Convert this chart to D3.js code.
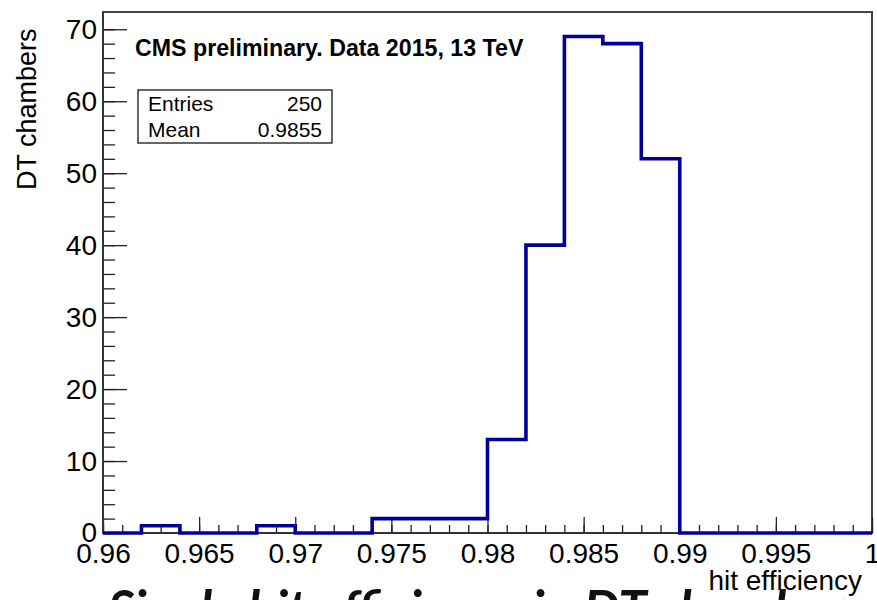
<!DOCTYPE html>
<html><head><meta charset="utf-8">
<script src="https://cdn.jsdelivr.net/npm/d3@7"></script>
<style>body{margin:0;background:#fff;overflow:hidden}svg{display:block}</style>
</head><body><svg id="c" width="877" height="600"></svg>
<script>
// ---- data ----
const binLowEdges = [0.960,0.962,0.964,0.966,0.968,0.970,0.972,0.974,0.976,0.978,
                     0.980,0.982,0.984,0.986,0.988,0.990,0.992,0.994,0.996,0.998];
const binCounts   = [0,1,0,0,1,0,0,2,2,2,13,40,69,68,52,0,0,0,0,0];
const xMax = 1.0;
const xTickValues = [0.96,0.965,0.97,0.975,0.98,0.985,0.99,0.995,1.0];
const xTickLabels = ["0.96","0.965","0.97","0.975","0.98","0.985","0.99","0.995","1"];
const yTickValues = [0,10,20,30,40,50,60,70];
const yTickLabels = ["0","10","20","30","40","50","60","70"];
const statsNames  = ["Entries","Mean"];
const statsValues = ["250","0.9855"];
const xTitle = "hit efficiency";
const yTitle = "DT chambers";
const headerText = "CMS preliminary. Data 2015, 13 TeV";
const slideTitle = "Single hit efficiency in DT chambers";

// ---- layout ----
const L = 103, R = 872, T = 12, B = 533;
const svg = d3.select("#c");
const x = d3.scaleLinear().domain([0.96, 1.0]).range([L, R]);
const y = d3.scaleLinear().domain([0, 72.4]).range([B, T]);
const font = "'Liberation Sans', Arial, Helvetica, sans-serif";

// frame
svg.append("rect").attr("x", L).attr("y", T).attr("width", R - L).attr("height", B - T)
  .attr("fill", "none").attr("stroke", "#444").attr("stroke-width", 2);

// minor x ticks
svg.append("g").attr("transform", `translate(0,${B})`)
  .call(d3.axisBottom(x).tickValues(x.ticks(40)).tickSize(-8).tickFormat(""))
  .call(g => g.select(".domain").remove())
  .call(g => g.selectAll("line").attr("stroke", "#222").attr("stroke-width", 1.3));
// major x ticks
const xa = svg.append("g").attr("transform", `translate(0,${B})`)
  .call(d3.axisBottom(x).tickValues(xTickValues).tickSize(-16).tickPadding(10)
        .tickFormat((d, i) => xTickLabels[i]))
  .call(g => g.select(".domain").remove());
xa.selectAll("line").attr("stroke", "#222").attr("stroke-width", 1.3);
xa.selectAll("text").attr("font-family", font).attr("font-size", 28).attr("fill", "#000");

// minor y ticks
svg.append("g").attr("transform", `translate(${L},0)`)
  .call(d3.axisLeft(y).tickValues(d3.range(0, 72, 2)).tickSize(-12).tickFormat(""))
  .call(g => g.select(".domain").remove())
  .call(g => g.selectAll("line").attr("stroke", "#222").attr("stroke-width", 1.3));
const ya = svg.append("g").attr("transform", `translate(${L},0)`)
  .call(d3.axisLeft(y).tickValues(yTickValues).tickSize(-24).tickPadding(6)
        .tickFormat((d, i) => yTickLabels[i]))
  .call(g => g.select(".domain").remove());
ya.selectAll("line").attr("stroke", "#222").attr("stroke-width", 1.3);
ya.selectAll("text").attr("font-family", font).attr("font-size", 28).attr("fill", "#000");

// left & bottom axis lines
svg.append("line").attr("x1", L).attr("x2", L).attr("y1", T).attr("y2", B)
  .attr("stroke", "#333").attr("stroke-width", 2);
svg.append("line").attr("x1", L).attr("x2", R).attr("y1", B).attr("y2", B)
  .attr("stroke", "#333").attr("stroke-width", 2);

// histogram
const pts = binLowEdges.map((e, i) => [e, binCounts[i]]);
pts.push([xMax, binCounts[binCounts.length - 1]]);
const line = d3.line().x(d => x(d[0])).y(d => y(d[1])).curve(d3.curveStepAfter);
svg.append("path").attr("d", line(pts)).attr("fill", "none")
  .attr("stroke", "#000099").attr("stroke-width", 3.6).attr("stroke-linejoin", "miter");

// titles
svg.append("text").attr("x", 862).attr("y", 590).attr("text-anchor", "end")
  .attr("font-family", font).attr("font-size", 28).text(xTitle);
svg.append("text").attr("transform", "translate(36,190) rotate(-90)")
  .attr("font-family", font).attr("font-size", 27).text(yTitle);

// header
svg.append("text").attr("x", 135).attr("y", 56).attr("font-family", font)
  .attr("font-weight", "bold").attr("font-size", 23.2).text(headerText);

// stats box
svg.append("rect").attr("x", 138).attr("y", 90).attr("width", 194).attr("height", 53)
  .attr("fill", "#fff").attr("stroke", "#000").attr("stroke-width", 1.2);
statsNames.forEach((n, i) => {
  svg.append("text").attr("x", 148).attr("y", 111 + i * 26).attr("font-family", font)
    .attr("font-size", 21).text(n);
  svg.append("text").attr("x", 322).attr("y", 111 + i * 26).attr("text-anchor", "end")
    .attr("font-family", font).attr("font-size", 21).text(statsValues[i]);
});

// slide title (cut off at bottom)
svg.append("text").attr("x", 108).attr("y", 627).attr("font-family", "Lato, 'Open Sans', sans-serif")
  .attr("font-weight", "bold").attr("font-style", "italic").attr("font-size", 51)
  .attr("fill", "#111").text(slideTitle);
</script></body></html>
